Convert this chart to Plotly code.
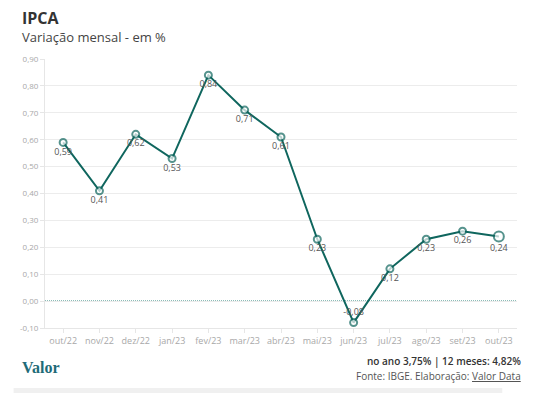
import plotly.graph_objects as go

months = ["out/22", "nov/22", "dez/22", "jan/23", "fev/23", "mar/23", "abr/23",
          "mai/23", "jun/23", "jul/23", "ago/23", "set/23", "out/23"]
values = [0.59, 0.41, 0.62, 0.53, 0.84, 0.71, 0.61, 0.23, -0.08, 0.12, 0.23, 0.26, 0.24]
y_ticks = [-0.10, 0.0, 0.10, 0.20, 0.30, 0.40, 0.50, 0.60, 0.70, 0.80, 0.90]

TEAL = "#0f665e"
labels = [f"{v:.2f}".replace(".", ",") for v in values]
positions = ["top center" if v < 0 else "bottom center" for v in values]
sizes = [7] * (len(values) - 1) + [10]

# page body has an 8px margin; figure is placed at (8, 8)
OFF = 8
W, H = 559 - OFF, 393 - OFF
L, T = 36 - OFF, 59 - OFF
R = W - (517 - OFF)
B = H - (328 - OFF)
pw, ph = W - L - R, H - T - B

def px(x):
    return (x - OFF - L) / pw

def py(y):
    return (H - B - (y - OFF)) / ph

fig = go.Figure()
fig.add_trace(go.Scatter(
    x=list(range(len(months))), y=values,
    mode="lines+markers+text",
    line=dict(color=TEAL, width=2),
    marker=dict(symbol="circle", size=sizes, color="white",
                line=dict(color=TEAL, width=2)),
    text=labels, textposition=positions,
    textfont=dict(family="Open Sans", size=9, color="#555555"),
    cliponaxis=False, hoverinfo="skip",
))

fig.add_shape(type="line", xref="paper", yref="y", x0=0, x1=1, y0=0, y1=0,
              line=dict(color="#1b7a70", width=1.2, dash="1px,1px"), layer="below")

fig.add_shape(type="rect", xref="paper", yref="paper",
              x0=px(4), x1=px(502), y0=py(393), y1=py(388),
              fillcolor="#f0f0f0", line=dict(width=0))

fig.update_layout(
    width=W, height=H,
    margin=dict(l=L, r=R, t=T, b=B),
    paper_bgcolor="white", plot_bgcolor="white",
    showlegend=False,
    font=dict(family="Open Sans"),
    xaxis=dict(
        tickmode="array", tickvals=list(range(len(months))), ticktext=months,
        range=[-0.5, len(months) - 0.5],
        showgrid=False, showline=True, linecolor="#e6e6e6", linewidth=1,
        ticks="outside", ticklen=4, tickcolor="#e6e6e6",
        tickfont=dict(family="Open Sans", size=9, color="#a8a8a8"),
        zeroline=False, fixedrange=True,
    ),
    yaxis=dict(
        tickmode="array", tickvals=y_ticks,
        ticktext=[f"{v:.2f}".replace(".", ",") for v in y_ticks],
        range=[-0.10, 0.90],
        showgrid=True, gridcolor="#ececec", gridwidth=1,
        showline=True, linecolor="#e6e6e6", linewidth=1,
        ticks="outside", ticklen=4, tickcolor="#e6e6e6",
        tickfont=dict(family="Open Sans", size=8, color="#a8a8a8"),
        zeroline=False, fixedrange=True,
    ),
    annotations=[
        dict(text="<b>IPCA</b>", xref="paper", yref="paper", x=px(11), y=py(18),
             xanchor="left", yanchor="middle", showarrow=False,
             font=dict(family="Open Sans", size=16, color="#333333")),
        dict(text="Variação mensal - em %", xref="paper", yref="paper", x=px(11), y=py(37),
             xanchor="left", yanchor="middle", showarrow=False,
             font=dict(family="Open Sans", size=13, color="#444444")),
        dict(text="<b>Valor</b>", xref="paper", yref="paper", x=px(11), y=py(367),
             xanchor="left", yanchor="middle", showarrow=False,
             font=dict(family="Liberation Serif", size=16, color="#1f6b78")),
        dict(text="no ano 3,75% | 12 meses: 4,82%", xref="paper", yref="paper",
             x=px(523), y=py(361), xanchor="right", yanchor="middle", showarrow=False,
             font=dict(family="Open Sans", size=10, color="#333333", weight=600)),
        dict(text="Fonte: IBGE. Elaboração: <u>Valor Data</u>", xref="paper", yref="paper",
             x=px(523), y=py(376), xanchor="right", yanchor="middle", showarrow=False,
             font=dict(family="Open Sans", size=10, color="#555555")),
    ],
)

fig.write_html("out.html")
